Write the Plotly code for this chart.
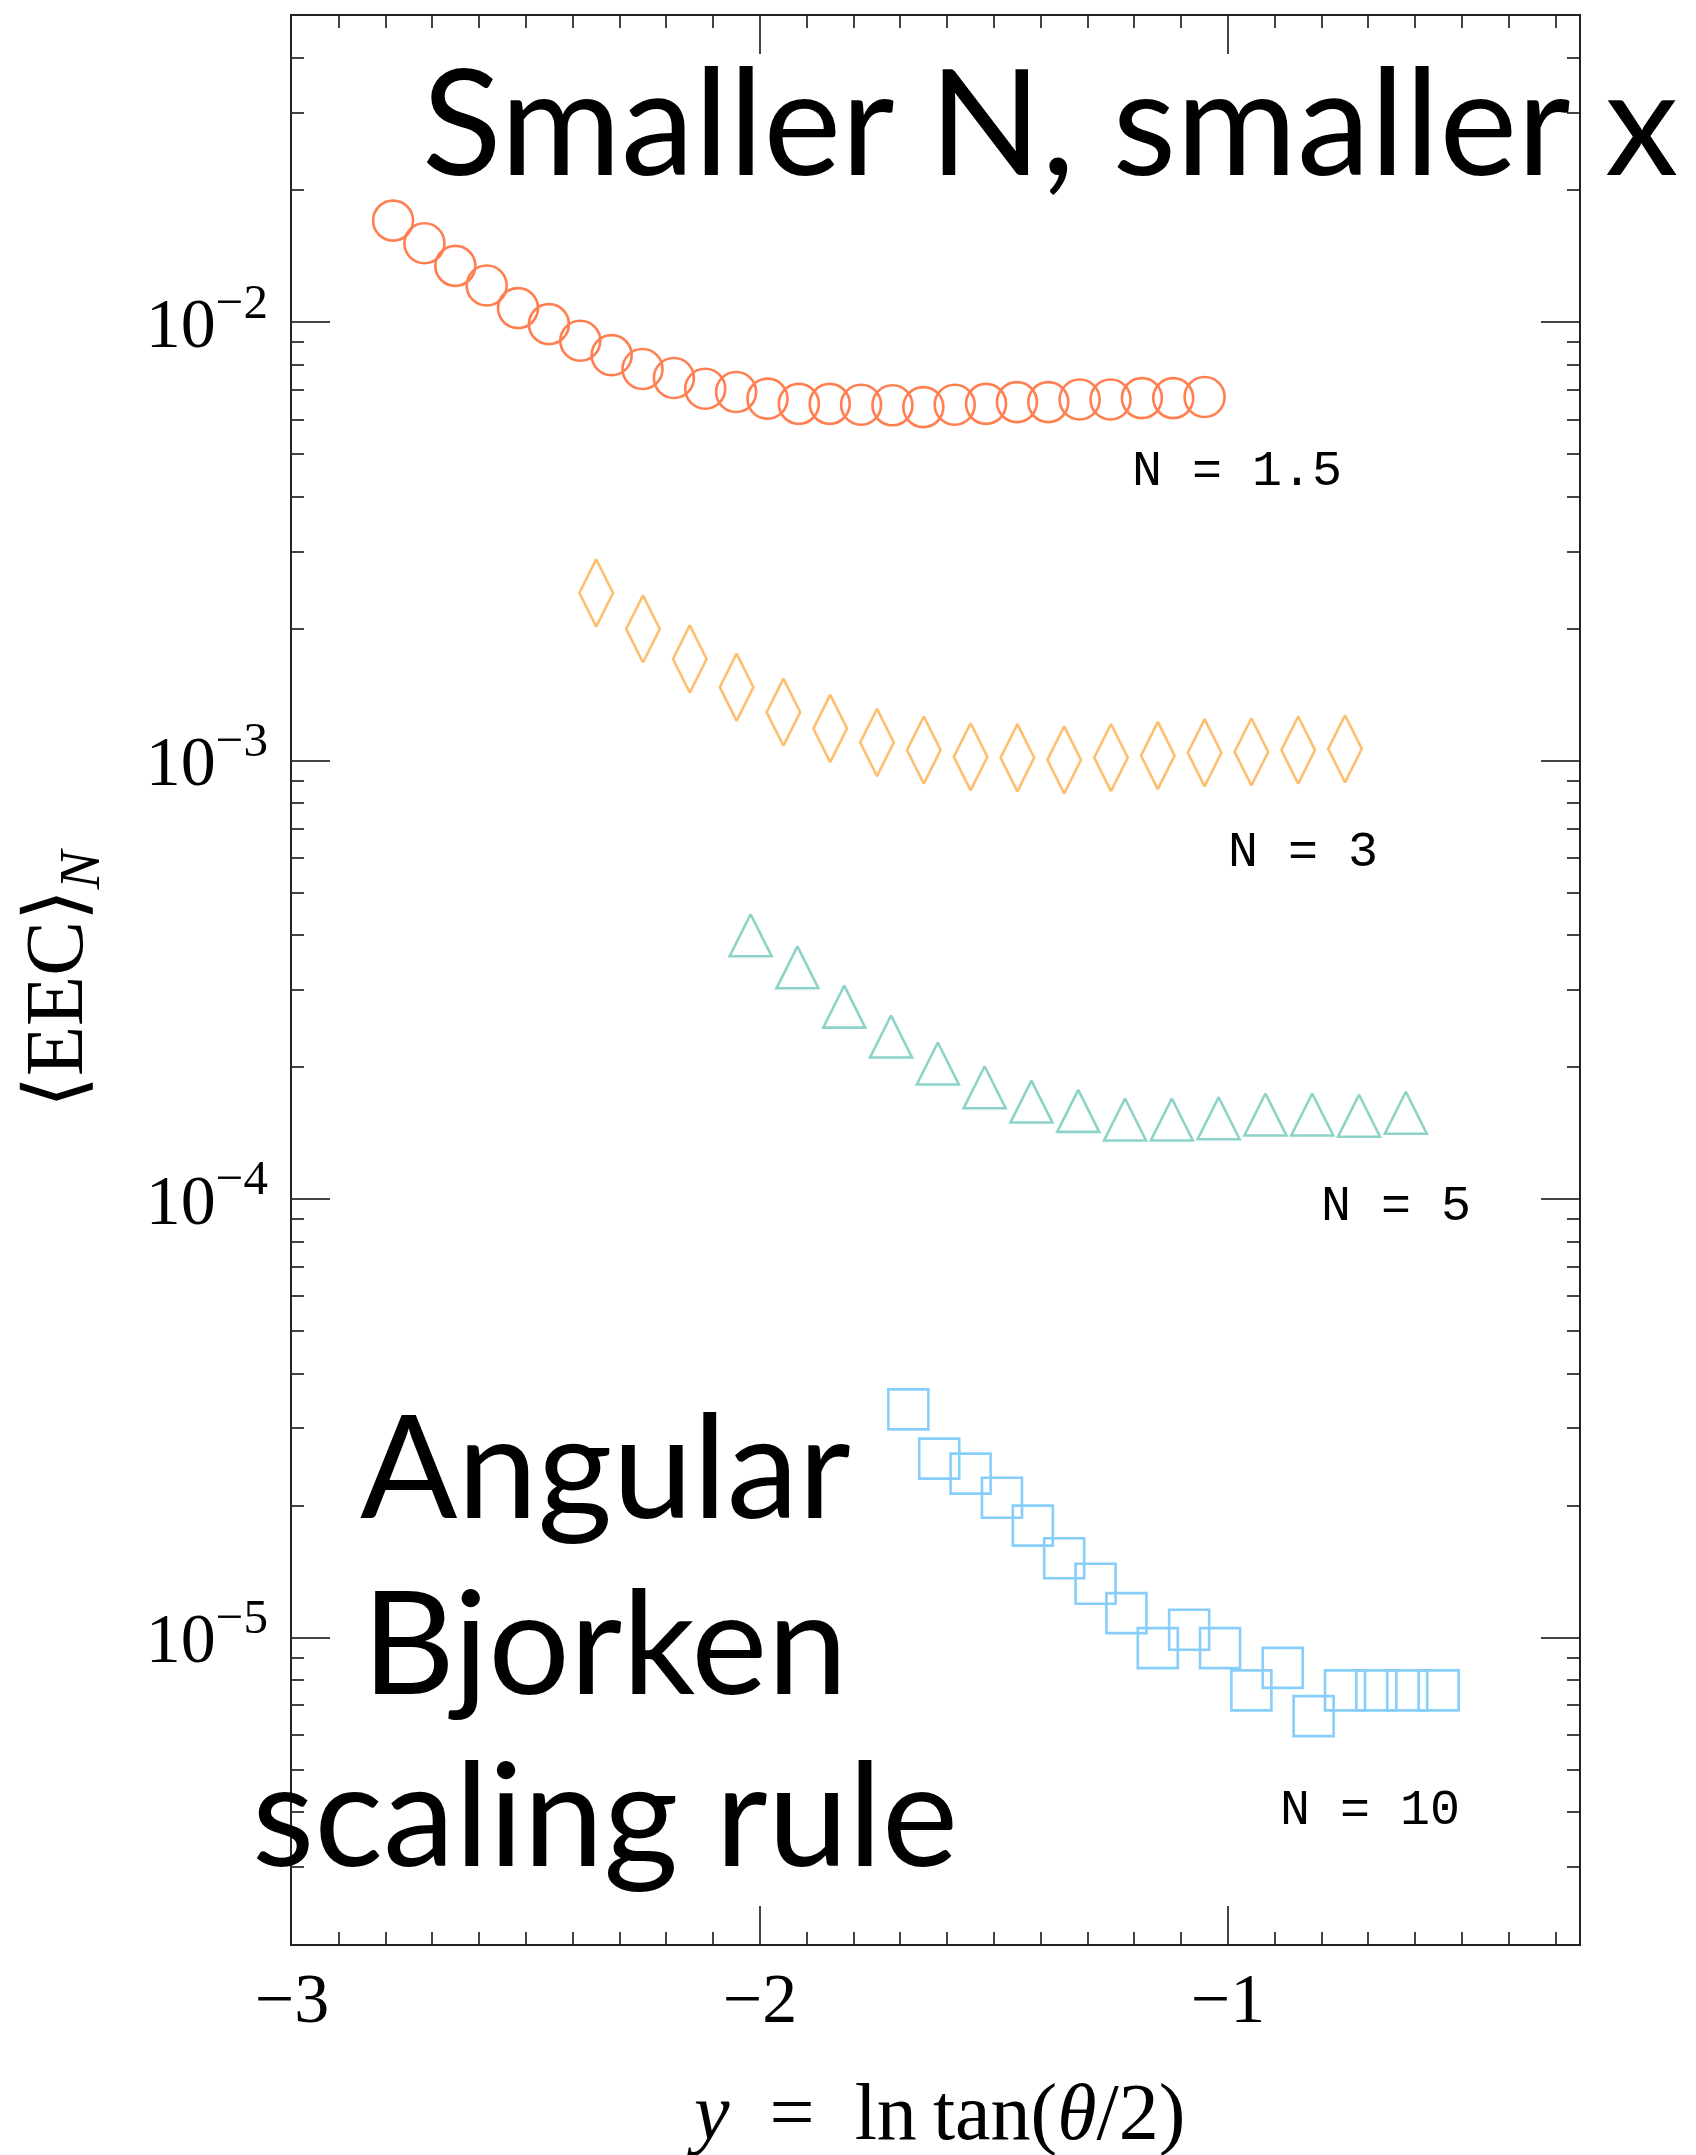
import math
import plotly.graph_objects as go

# ---------------- data ----------------
x_n15 = [-2.784, -2.717, -2.651, -2.584, -2.517, -2.451, -2.384, -2.317, -2.251,
         -2.184, -2.117, -2.051, -1.984, -1.917, -1.851, -1.784, -1.717, -1.651,
         -1.584, -1.517, -1.451, -1.384, -1.317, -1.251, -1.184, -1.117, -1.050]
y_n15 = [0.01707, 0.01516, 0.01346, 0.01214, 0.01078, 0.00991, 0.00908, 0.00842,
         0.00783, 0.00747, 0.00706, 0.00694, 0.00670, 0.00652, 0.00652, 0.00649,
         0.00647, 0.00641, 0.00649, 0.00652, 0.00658, 0.00658, 0.00667, 0.00667,
         0.00672, 0.00672, 0.00676]

x_n3 = [-2.35, -2.25, -2.15, -2.05, -1.95, -1.85, -1.75, -1.65, -1.55, -1.45,
        -1.35, -1.25, -1.15, -1.05, -0.95, -0.85, -0.75]
y_n3 = [0.002414, 0.001999, 0.001707, 0.001472, 0.001291, 0.001185, 0.001101,
        0.001058, 0.001021, 0.001016, 0.001005, 0.001017, 0.001028, 0.001043,
        0.001048, 0.001058, 0.001065]

x_n5 = [-2.02, -1.92, -1.82, -1.72, -1.62, -1.52, -1.42, -1.32, -1.22, -1.12,
        -1.02, -0.92, -0.82, -0.72, -0.62]
y_n5 = [4.00e-4, 3.38e-4, 2.75e-4, 2.35e-4, 2.04e-4, 1.80e-4, 1.67e-4, 1.59e-4,
        1.52e-4, 1.52e-4, 1.53e-4, 1.56e-4, 1.56e-4, 1.55e-4, 1.575e-4]

x_n10 = [-1.683, -1.617, -1.550, -1.483, -1.417, -1.350, -1.283, -1.217, -1.150,
         -1.083, -1.017, -0.950, -0.883, -0.817, -0.750, -0.683, -0.617, -0.550]
y_n10 = [3.316e-5, 2.56e-5, 2.366e-5, 2.084e-5, 1.80e-5, 1.517e-5, 1.327e-5,
         1.137e-5, 9.46e-6, 1.042e-5, 9.46e-6, 7.58e-6, 8.53e-6, 6.62e-6,
         7.58e-6, 7.58e-6, 7.58e-6, 7.58e-6]

series_labels = ["N = 1.5", "N = 3", "N = 5", "N = 10"]

x_tickvals = [-3, -2, -1]
x_ticktext = ["\u22123", "\u22122", "\u22121"]
y_tickvals = [1e-5, 1e-4, 1e-3, 1e-2]
y_ticktext = ["10<sup>\u22125</sup>", "10<sup>\u22124</sup>",
              "10<sup>\u22123</sup>", "10<sup>\u22122</sup>"]

x_title = "<i>y</i>\u2002=\u2002ln\u2009tan(<i>\u03b8</i>/2)"
y_title = "\u27e8EEC\u27e9<sub><i>N</i></sub>"
top_note = "Smaller N, smaller x"
bottom_note = ["Angular", "Bjorken", "scaling rule"]

# ---------------- style ----------------
W, H = 1696, 2155
ML, MR, MT, MB = 292, 117, 16, 211
PW, PH = W - ML - MR, H - MT - MB

C15 = "#FF7F50"
C3 = "#FDBF6F"
C5 = "#8DD3C7"
C10 = "#87CEFA"


def px(xp):
    return (xp - ML) / PW


def py(yp):
    return (H - MB - yp) / PH


fig = go.Figure()
fig.add_trace(go.Scatter(x=x_n15, y=y_n15, mode="markers", name=series_labels[0],
                         marker=dict(symbol="circle-open", size=40, color=C15,
                                     line=dict(width=2.6, color=C15))))
fig.add_trace(go.Scatter(x=x_n3, y=y_n3, mode="markers", name=series_labels[1],
                         marker=dict(symbol="diamond-tall-open", size=48, color=C3,
                                     line=dict(width=2.6, color=C3))))
TRI = 42
fig.add_trace(go.Scatter(x=x_n5, y=y_n5, mode="markers", name=series_labels[2],
                         marker=dict(symbol="arrow-down-open", size=TRI, angle=180,
                                     standoff=TRI / 2, color=C5,
                                     line=dict(width=2.6, color=C5))))
fig.add_trace(go.Scatter(x=x_n10, y=y_n10, mode="markers", name=series_labels[3],
                         marker=dict(symbol="square-open", size=40, color=C10,
                                     line=dict(width=2.6, color=C10))))

AXC = "#222222"
TKC = "#444444"
x_minor = [round(-3 + 0.1 * i, 2) for i in range(0, 28)]
y_minor = [k * 10.0 ** e for e in range(-6, -1) for k in range(2, 10)]

common = dict(showline=True, linecolor=AXC, linewidth=2, mirror="ticks",
              ticks="inside", ticklen=38, tickwidth=1.5, tickcolor=TKC,
              showgrid=False, zeroline=False,
              tickfont=dict(family="Liberation Serif", size=70, color="black"))

fig.update_xaxes(range=[-3, -0.25], tickmode="array", tickvals=x_tickvals,
                 ticktext=x_ticktext, ticklabelstandoff=-8,
                 minor=dict(tickmode="array", tickvals=x_minor, ticks="inside",
                            ticklen=12, tickwidth=1.5, tickcolor=TKC, showgrid=False),
                 **common)
fig.update_yaxes(type="log", range=[math.log10(2e-6), math.log10(5e-2)],
                 tickmode="array", tickvals=y_tickvals, ticktext=y_ticktext,
                 ticklabelstandoff=8,
                 minor=dict(tickmode="array", tickvals=y_minor, ticks="inside",
                            ticklen=12, tickwidth=1.5, tickcolor=TKC, showgrid=False),
                 **common)

ann = []
mono = dict(family="Liberation Mono", size=50, color="black")
label_pos = [(1130, 471), (1226, 852), (1319, 1206), (1278, 1810)]
for t, (lx, ly) in zip(series_labels, label_pos):
    ann.append(dict(text=t, x=px(lx), y=py(ly), xref="paper", yref="paper",
                    xanchor="left", yanchor="middle", showarrow=False, font=mono))

ann.append(dict(text=top_note, x=px(1050), y=py(118), xref="paper", yref="paper",
                xanchor="center", yanchor="middle", showarrow=False,
                font=dict(family="Lato", size=147, color="black")))
for t, yy in zip(bottom_note, [1462, 1638, 1810]):
    ann.append(dict(text=t, x=px(605), y=py(yy), xref="paper", yref="paper",
                    xanchor="center", yanchor="middle", showarrow=False,
                    font=dict(family="Lato", size=144, color="black")))

ann.append(dict(text=x_title, x=px(936), y=py(2112), xref="paper", yref="paper",
                xanchor="center", yanchor="middle", showarrow=False,
                font=dict(family="Liberation Serif", size=80, color="black")))
ann.append(dict(text=y_title, x=px(60), y=py(978), xref="paper", yref="paper",
                xanchor="center", yanchor="middle", textangle=-90, showarrow=False,
                font=dict(family="Liberation Serif", size=82, color="black")))

fig.update_layout(width=W, height=H, autosize=False,
                  margin=dict(l=ML, r=MR, t=MT, b=MB, pad=0),
                  paper_bgcolor="white", plot_bgcolor="white",
                  showlegend=False, annotations=ann,
                  font=dict(family="Liberation Serif", color="black"))

fig.write_html("out.html")
